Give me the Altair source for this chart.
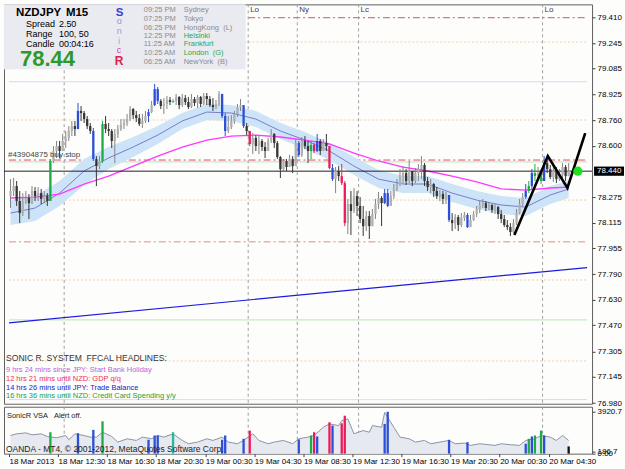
import altair as alt
import pandas as pd

FONT = "Liberation Sans"

# ---------------- price bars (NZDJPY M15) ----------------
first_open = 78.283
bar_close = [
    78.315, 78.346, 78.252, 78.176, 78.252, 78.271, 78.239, 78.315, 78.283, 78.302,
    78.265, 78.283, 78.252, 78.504, 78.567, 78.598, 78.567, 78.630, 78.649, 78.693,
    78.724, 78.705, 78.819, 78.806, 78.768, 78.724, 78.693, 78.516, 78.472, 78.504,
    78.737, 78.705, 78.693, 78.630, 78.674, 78.705, 78.730, 78.743, 78.768, 78.831,
    78.793, 78.774, 78.737, 78.756, 78.787, 78.812, 78.856, 78.957, 78.882, 78.850,
    78.863, 78.888, 78.875, 78.882, 78.907, 78.856, 78.900, 78.875, 78.844, 78.894,
    78.869, 78.907, 78.863, 78.913, 78.894, 78.856, 78.844, 78.863, 78.926, 78.787,
    78.693, 78.718, 78.756, 78.800, 78.844, 78.856, 78.724, 78.693, 78.611, 78.649,
    78.598, 78.630, 78.592, 78.567, 78.630, 78.674, 78.617, 78.529, 78.453, 78.504,
    78.466, 78.516, 78.472, 78.617, 78.542, 78.630, 78.598, 78.567, 78.605, 78.567,
    78.630, 78.567, 78.617, 78.598, 78.460, 78.390, 78.441, 78.409, 78.365, 78.113,
    78.233, 78.189, 78.283, 78.221, 78.139, 78.094, 78.158, 78.094, 78.170, 78.233,
    78.271, 78.239, 78.302, 78.221, 78.283, 78.328, 78.359, 78.403, 78.428, 78.378,
    78.441, 78.378, 78.428, 78.453, 78.479, 78.378, 78.340, 78.359, 78.315, 78.283,
    78.296, 78.265, 78.290, 78.132, 78.113, 78.151, 78.101, 78.145, 78.164, 78.088,
    78.132, 78.170, 78.202, 78.227, 78.239, 78.208, 78.227, 78.195, 78.214, 78.170,
    78.139, 78.101, 78.088, 78.057, 78.113, 78.176, 78.233, 78.277, 78.315, 78.346,
    78.428, 78.409, 78.428, 78.378, 78.491, 78.453, 78.403, 78.441, 78.390, 78.416,
    78.466, 78.409, 78.440]
bar_high = [
    78.390, 78.397, 78.378, 78.315, 78.302, 78.315, 78.296, 78.346, 78.340, 78.340,
    78.328, 78.315, 78.302, 78.516, 78.598, 78.630, 78.630, 78.674, 78.693, 78.724,
    78.756, 78.756, 78.869, 78.850, 78.819, 78.787, 78.743, 78.712, 78.535, 78.535,
    78.756, 78.787, 78.743, 78.705, 78.705, 78.730, 78.768, 78.768, 78.800, 78.850,
    78.837, 78.819, 78.800, 78.800, 78.819, 78.831, 78.882, 78.989, 78.970, 78.894,
    78.900, 78.913, 78.907, 78.894, 78.926, 78.913, 78.926, 78.919, 78.907, 78.926,
    78.907, 78.919, 78.913, 78.932, 78.932, 78.913, 78.900, 78.888, 78.944, 78.926,
    78.806, 78.787, 78.793, 78.819, 78.863, 78.894, 78.850, 78.743, 78.693, 78.680,
    78.667, 78.661, 78.642, 78.623, 78.649, 78.705, 78.680, 78.630, 78.535, 78.516,
    78.516, 78.542, 78.535, 78.642, 78.630, 78.655, 78.661, 78.630, 78.630, 78.617,
    78.674, 78.642, 78.642, 78.674, 78.598, 78.485, 78.466, 78.472, 78.485, 78.378,
    78.265, 78.315, 78.334, 78.315, 78.277, 78.221, 78.189, 78.189, 78.202, 78.265,
    78.309, 78.283, 78.328, 78.328, 78.315, 78.359, 78.390, 78.453, 78.472, 78.453,
    78.504, 78.441, 78.460, 78.485, 78.535, 78.491, 78.403, 78.390, 78.365, 78.340,
    78.321, 78.315, 78.309, 78.290, 78.176, 78.170, 78.164, 78.176, 78.183, 78.176,
    78.164, 78.189, 78.221, 78.252, 78.265, 78.252, 78.246, 78.233, 78.233, 78.221,
    78.195, 78.164, 78.132, 78.113, 78.139, 78.202, 78.265, 78.302, 78.359, 78.378,
    78.453, 78.485, 78.466, 78.441, 78.535, 78.516, 78.479, 78.472, 78.466, 78.453,
    78.491, 78.479, 78.491]
bar_low = [
    78.208, 78.283, 78.221, 78.113, 78.158, 78.233, 78.139, 78.233, 78.252, 78.252,
    78.233, 78.239, 78.221, 78.252, 78.491, 78.523, 78.523, 78.567, 78.586, 78.630,
    78.661, 78.661, 78.705, 78.756, 78.743, 78.705, 78.674, 78.504, 78.346, 78.453,
    78.491, 78.680, 78.661, 78.586, 78.491, 78.649, 78.693, 78.705, 78.724, 78.756,
    78.768, 78.749, 78.724, 78.712, 78.743, 78.749, 78.806, 78.850, 78.863, 78.831,
    78.800, 78.831, 78.856, 78.869, 78.856, 78.831, 78.844, 78.856, 78.831, 78.837,
    78.850, 78.837, 78.844, 78.856, 78.856, 78.844, 78.819, 78.831, 78.850, 78.774,
    78.661, 78.680, 78.705, 78.737, 78.781, 78.819, 78.712, 78.667, 78.598, 78.548,
    78.567, 78.548, 78.567, 78.523, 78.567, 78.617, 78.586, 78.516, 78.397, 78.441,
    78.441, 78.466, 78.428, 78.472, 78.529, 78.529, 78.579, 78.491, 78.516, 78.554,
    78.561, 78.542, 78.567, 78.567, 78.453, 78.378, 78.302, 78.378, 78.353, 78.094,
    78.044, 78.038, 78.176, 78.158, 78.113, 78.032, 78.063, 78.013, 78.126, 78.139,
    78.202, 78.094, 78.233, 78.214, 78.252, 78.265, 78.315, 78.346, 78.365, 78.353,
    78.365, 78.346, 78.365, 78.378, 78.390, 78.346, 78.315, 78.302, 78.277, 78.265,
    78.252, 78.233, 78.233, 78.120, 78.063, 78.076, 78.063, 78.088, 78.126, 78.082,
    78.094, 78.126, 78.151, 78.176, 78.208, 78.189, 78.195, 78.176, 78.170, 78.139,
    78.113, 78.088, 78.069, 78.032, 78.050, 78.101, 78.170, 78.221, 78.265, 78.302,
    78.328, 78.378, 78.378, 78.359, 78.378, 78.428, 78.390, 78.372, 78.365, 78.378,
    78.390, 78.378, 78.416]

# VSA highlighted bars
vsa_bars = [13, 22, 27, 30, 45, 47, 48, 53, 69, 70, 76, 78, 94, 98, 99, 100, 104, 105,
            108, 109, 122, 123, 143, 149, 168, 169, 170, 171, 173, 174]
vsa_kind = ["g", "b", "b", "g", "b", "b", "b", "t", "b", "b", "b", "r", "b", "g", "r", "b", "r", "b",
            "r", "r", "b", "b", "b", "b", "b", "g", "b", "g", "g", "b"]
vsa_volume = [2005, 1912, 2224, 3024, 1298, 1699, 1699, 2005, 1298, 1699, 1390, 2160, 1329, 1699,
              2005, 1606, 2932, 2623, 2836, 3550, 2781, 3920.7, 1298, 1081, 927, 1390, 1606, 1699,
              2160, 1699]
current_bar = 182
current_volume = 677

# volume line (read at sampled bars)
vol_line_bars = [0, 2, 5, 7, 10, 12, 15, 18, 19, 21, 24, 26, 28, 30, 33, 35, 38, 41, 43, 46,
                 48, 50, 53, 56, 58, 61, 64, 66, 69, 71, 74, 76, 79, 81, 84, 86, 89, 92, 94, 97,
                 99, 102, 104, 107, 108, 110, 112, 115, 117, 118, 121, 122, 125, 127, 130, 132,
                 135, 137, 140, 143, 145, 148, 150, 153, 155, 158, 160, 163, 166, 168, 171, 173,
                 176, 178, 180, 182]
vol_line_vals = [1699, 1854, 1943, 1761, 1854, 1606, 1483, 1699, 1298, 1854, 1699, 1545, 1545, 2005,
                 1606, 1081, 1390, 1236, 1545, 1390, 1699, 1545, 1854, 1236, 927, 1081, 1390, 1236,
                 1545, 1081, 927, 1236, 1854, 1236, 927, 1081, 1236, 927, 1390, 1545, 1699, 2469,
                 2781, 2623, 3087, 3245, 1854, 2160, 2005, 2623, 2469, 3857, 2469, 1545, 1390, 1081,
                 1236, 927, 1081, 1236, 927, 988, 773, 927, 865, 773, 927, 834, 773, 1236, 1390,
                 1699, 1545, 1236, 1699, 1236]

# moving averages (sampled every 8 bars)
ma_bars = [0, 8, 16, 24, 32, 40, 48, 56, 64, 72, 80, 88, 96, 104, 112, 120, 128, 136, 144, 152,
           160, 168, 176, 182]
ma_mid = [78.176, 78.208, 78.302, 78.441, 78.523, 78.592, 78.667, 78.756, 78.812, 78.806, 78.768,
          78.693, 78.636, 78.567, 78.472, 78.390, 78.359, 78.359, 78.302, 78.258, 78.227, 78.214,
          78.290, 78.328]
ma_upper = [78.258, 78.283, 78.378, 78.516, 78.592, 78.655, 78.724, 78.806, 78.863, 78.856, 78.819,
            78.743, 78.686, 78.617, 78.529, 78.447, 78.409, 78.409, 78.359, 78.315, 78.283, 78.271,
            78.346, 78.378]
ma_lower = [78.101, 78.126, 78.221, 78.353, 78.453, 78.529, 78.611, 78.705, 78.762, 78.756, 78.718,
            78.642, 78.579, 78.510, 78.416, 78.334, 78.302, 78.302, 78.246, 78.202, 78.170, 78.158,
            78.233, 78.271]
ma_slow = [78.271, 78.277, 78.296, 78.359, 78.409, 78.472, 78.535, 78.592, 78.636, 78.661, 78.667,
           78.655, 78.636, 78.611, 78.554, 78.504, 78.466, 78.441, 78.409, 78.372, 78.328, 78.321,
           78.334, 78.340]

# drawn objects
zigzag_bars = [164.3, 175.2, 181.6, 187.4]
zigzag_prices = [78.038, 78.535, 78.334, 78.680]
trend_bars = [-0.5, 188]
trend_prices = [77.485, 77.833]
alert_bar = 185
alert_price = 78.44

level_prices = [79.406, 79.253, 79.003, 78.762, 78.510, 78.498, 78.258, 77.995, 77.755, 77.504,
                77.245, 77.002]
level_kind = ["dd_red", "dot", "lav", "dot", "dd_red", "grn", "dot", "dd_org", "dot", "grn", "dot", "lav"]
level_start = [77.5, -0.5, -0.5, -0.5, -0.5, -0.5, -0.5, -0.5, -0.5, -0.5, -0.5, -0.5]

session_bars = [17.5, 77.5, 93.5, 113.5, 173.5]
session_names = ["", "Lo", "Ny", "Lc", "Lo"]

price_ticks = [79.410, 79.245, 79.085, 78.925, 78.760, 78.600, 78.440, 78.275, 78.115, 77.955,
               77.790, 77.630, 77.470, 77.305, 77.145, 76.980]
time_labels = ["18 Mar 2013", "18 Mar 12:30", "18 Mar 16:30", "18 Mar 20:30", "19 Mar 00:30",
               "19 Mar 04:30", "19 Mar 08:30", "19 Mar 12:30", "19 Mar 16:30", "19 Mar 20:30",
               "20 Mar 00:30", "20 Mar 04:30"]

# ---------------- tables ----------------
KIND = {"b": "#2c4fd6", "g": "#1faa48", "r": "#ec1c5a", "t": "#2ab79c"}
vsa_map = dict(zip(vsa_bars, vsa_kind))
rows = []
prev = first_open
for i, (c, h, l) in enumerate(zip(bar_close, bar_high, bar_low)):
    o = prev
    prev = c
    top, bot = max(o, c), min(o, c)
    if top - bot < 0.003:
        m = (top + bot) / 2
        top, bot = m + 0.0016, m - 0.0016
    if i in vsa_map:
        col = KIND[vsa_map[i]]
        wick = col
    elif c >= o:
        col, wick = "#b0b0b0", "#848484"
    else:
        col, wick = "#363636", "#363636"
    rows.append(dict(i=i, h=max(h, top), l=min(l, bot), top=top, bot=bot, col=col, wick=wick))
candles = pd.DataFrame(rows)

ma = pd.DataFrame(dict(bar=ma_bars, mid=ma_mid, up=ma_upper, lo=ma_lower, slow=ma_slow))
levels = pd.DataFrame(dict(p=level_prices, kind=level_kind, x0=level_start,
                           x1=[188] * len(level_prices)))
sessions = pd.DataFrame(dict(bar=session_bars, name=session_names))
zz = pd.DataFrame(dict(bar=zigzag_bars, p=zigzag_prices))
tl = pd.DataFrame(dict(bar=trend_bars, p=trend_prices))
last = pd.DataFrame(dict(p=[bar_close[-1]]))
alert = pd.DataFrame(dict(bar=[alert_bar], p=[alert_price]))
vline = pd.DataFrame(dict(bar=vol_line_bars, v=vol_line_vals))
vbars = pd.DataFrame(dict(bar=vsa_bars + [current_bar], v=vsa_volume + [current_volume],
                          col=[KIND[k] for k in vsa_kind] + ["#111111"], z=0))

# ---------------- scales ----------------
XS = alt.Scale(domain=[-0.5, 188], nice=False, zero=False)
YS = alt.Scale(domain=[76.976, 79.490], nice=False, zero=False)
YAX = alt.Axis(orient="right", values=[v for v in price_ticks if abs(v - round(bar_close[-1], 2)) > 1e-6],
               format=".3f", tickSize=3, labelPadding=2, title=None, domain=False, grid=False)


def MX(f):
    return alt.X(f, type="quantitative", scale=XS, axis=None)


def MY(f):
    return alt.Y(f, type="quantitative", scale=YS, axis=YAX)


tick_vals = [16 * k - 0.5 for k in range(len(time_labels))]
time_expr = "[" + ",".join("'%s'" % s for s in time_labels) + "][round((datum.value + 0.5) / 16)]"
VXAX = alt.Axis(orient="bottom", values=tick_vals, labelExpr=time_expr, tickSize=3, labelPadding=1,
                labelAlign="left", labelBaseline="top", labelOverlap=False, labelFlush=False,
                domain=False, grid=False, title=None)
VYS = alt.Scale(domain=[0, 4390], nice=False, zero=True)
VYAX = alt.Axis(orient="right", values=[0, 186.7, 3920.7],
                labelExpr="datum.value == 0 ? '0.00' : format(datum.value, '.1f')",
                tickSize=3, labelPadding=2, labelOverlap=False, title=None, domain=False, grid=False)


def VX(f):
    return alt.X(f, type="quantitative", scale=XS, axis=VXAX)


def VY(f):
    return alt.Y(f, type="quantitative", scale=VYS, axis=VYAX)


def txt(text, x, y, size=8.0, color="#000000", weight="normal", align="left", baseline="alphabetic"):
    return alt.Chart(alt.InlineData(values=[{"a": 1}])).mark_text(
        text=text, font=FONT, fontSize=size, color=color, fontWeight=weight, align=align,
        baseline=baseline).encode(x=alt.value(x), y=alt.value(y))


# ---------------- main panel ----------------
STY = {"dd_red": ("#e24a6c", [7, 3, 2, 3]), "dd_org": ("#ec8a76", [7, 3, 2, 3]),
       "dot": ("#f2cfaa", [2, 2]), "lav": ("#d4d4f4", [1, 0]), "grn": ("#c2ecc2", [1, 0])}
level_layers = []
for k, (colr, dash) in STY.items():
    level_layers.append(
        alt.Chart(levels).transform_filter(alt.datum.kind == k).mark_rule(
            color=colr, strokeDash=dash, strokeWidth=1.2 if k == "grn" else 1
        ).encode(x=MX("x0"), x2=alt.X2("x1"), y=MY("p")))

sess_rule = alt.Chart(sessions).mark_rule(color="#a0a0a0", strokeDash=[3, 3], strokeWidth=1).encode(x=MX("bar"))
sess_text = alt.Chart(sessions).mark_text(align="left", dx=2, font=FONT, fontSize=8, color="#38386a",
                                          baseline="alphabetic").encode(x=MX("bar"), y=alt.value(8), text="name:N")
trend = alt.Chart(tl).mark_line(color="#1a1ae0", strokeWidth=1.2).encode(x=MX("bar"), y=MY("p"))
band = alt.Chart(ma).mark_area(color="#cde3f7", opacity=1).encode(x=MX("bar"), y=MY("lo"), y2=alt.Y2("up"))
mid = alt.Chart(ma).mark_line(color="#7a7acc", strokeWidth=1).encode(x=MX("bar"), y=MY("mid"))
slow = alt.Chart(ma).mark_line(color="#ff38ff", strokeWidth=1.3).encode(x=MX("bar"), y=MY("slow"))
bid = alt.Chart(last).mark_rule(color="#202020", strokeWidth=1).encode(y=MY("p"))
wicks = alt.Chart(candles).mark_rule(strokeWidth=1).encode(
    x=MX("i"), y=MY("h"), y2=alt.Y2("l"), color=alt.Color("wick:N", scale=None))
bodies = alt.Chart(candles).mark_bar(size=2.3).encode(
    x=MX("i"), y=MY("top"), y2=alt.Y2("bot"), color=alt.Color("col:N", scale=None))
zig = alt.Chart(zz).mark_line(color="#000000", strokeWidth=2.6).encode(x=MX("bar"), y=MY("p"))
dot = alt.Chart(alert).mark_circle(size=85, color="#1fe01f", opacity=1).encode(x=MX("bar"), y=MY("p"))

box = alt.Chart(alt.InlineData(values=[{"a": 1}])).mark_rect(color="#eaeaf1").encode(
    x=alt.value(0), x2=alt.value(242), y=alt.value(0), y2=alt.value(65))

hl_box = alt.Chart(last).transform_calculate(hi="datum.p + 0.029", lo="datum.p - 0.029").mark_rect(
    color="#000000").encode(x=alt.value(591), x2=alt.value(621), y=MY("hi"), y2=alt.Y2("lo"))
hl_txt = alt.Chart(last).mark_text(align="left", baseline="middle", font=FONT, fontSize=8,
                                   color="#ffffff").encode(x=alt.value(594), y=MY("p"),
                                                           text=alt.Text("p:Q", format=".3f"))

texts = [
    txt("NZDJPY", 12, 12, 11.5, weight="bold"),
    txt("M15", 62, 12, 11.5, weight="bold"),
    txt("Spread", 22, 22.7, 9), txt("2.50", 55, 22.7, 9),
    txt("Range", 22, 32.7, 9), txt("100, 50", 55, 32.7, 9),
    txt("Candle", 22, 42.7, 9), txt("00:04:16", 55, 42.7, 9),
    txt("78.44", 16, 61.3, 22, "#2a9a2a", "bold"),
    txt("S", 112, 12, 11.5, "#3a3ad6", "bold"),
    txt("o", 113, 19.7, 9, "#8c8cf0"),
    txt("n", 113, 29.5, 9, "#9a9ae0"),
    txt("i", 114.5, 39.5, 9, "#f07ad0"),
    txt("c", 113, 49, 9, "#d040c0"),
    txt("R", 111, 61, 12, "#e0204a", "bold"),
]
times = ["09:25 PM", "07:25 PM", "06:25 PM", "12:25 PM", "11:25 AM", "10:25 AM", "06:25 AM"]
cities = ["Sydney", "Tokyo", "HongKong\u00a0\u00a0(L)", "Helsinki", "Frankfurt", "London\u00a0\u00a0(G)",
          "NewYork\u00a0\u00a0(B)"]
city_cols = ["#8c8c8c", "#8c8c8c", "#8c8c8c", "#2aa84a", "#2aa84a", "#2aa84a", "#8c8c8c"]
bases = [8, 16.3, 25.3, 33.7, 42, 51, 59.7]
for t, cname, cc, b in zip(times, cities, city_cols, bases):
    texts.append(txt(t, 140, b, 7.5, "#8c8c8c"))
    texts.append(txt(cname, 180, b, 7.5, cc))
texts += [
    txt("#43904875 buy stop", 4, 153, 8, "#444444"),
    txt("SONIC R. SYSTEM\u00a0\u00a0FFCAL HEADLINES:", 2, 357.7, 8.6, "#333333"),
    txt("9 hrs 24 mins since JPY: Start Bank Holiday", 2, 368.7, 7.5, "#c060e0"),
    txt("12 hrs 21 mins until NZD: GDP q/q", 2, 377.7, 7.5, "#f03050"),
    txt("14 hrs 26 mins until JPY: Trade Balance", 2, 386.3, 7.5, "#2020d0"),
    txt("16 hrs 36 mins until NZD: Credit Card Spending y/y", 2, 394.3, 7.5, "#20a040"),
]

main = alt.layer(*level_layers, sess_rule, trend, band, mid, slow, bid, wicks, bodies, zig, dot,
                 box, sess_text, *texts, hl_box, hl_txt).properties(width=589, height=400)

# ---------------- volume panel ----------------
varea = alt.Chart(vline).mark_area(color="#e6e9f0", opacity=1).encode(x=VX("bar"), y=VY("v"))
vln = alt.Chart(vline).mark_line(color="#8d93a3", strokeWidth=1).encode(x=VX("bar"), y=VY("v"))
vb = alt.Chart(vbars).mark_bar(size=2.3).encode(x=VX("bar"), y=VY("v"), y2=alt.Y2("z"),
                                               color=alt.Color("col:N", scale=None))
vsess = alt.Chart(sessions).mark_rule(color="#a0a0a0", strokeDash=[3, 3], strokeWidth=1).encode(x=VX("bar"))
vol = alt.layer(
    vsess, varea, vln, vb,
    txt("SonicR VSA", 3, 11.3, 7.5, "#222222"),
    txt("Alert off.", 50, 11.3, 7.5, "#222222"),
    txt("OANDA - MT4, \u00a9 2001-2012, MetaQuotes Software Corp.", 2, 45.5, 8.5, "#222222"),
).properties(width=589, height=47)

chart = alt.vconcat(main, vol, spacing=3, bounds="flush").properties(
    padding={"left": 3, "top": 3, "right": 0, "bottom": 0}
).configure(background="#fdfdfc").configure_view(
    stroke="#606060", strokeWidth=1
).configure_axis(labelFont=FONT, labelFontSize=8, labelColor="#000000", tickColor="#404040")

chart.save("out.html", embed_options={"renderer": "svg", "actions": False})
